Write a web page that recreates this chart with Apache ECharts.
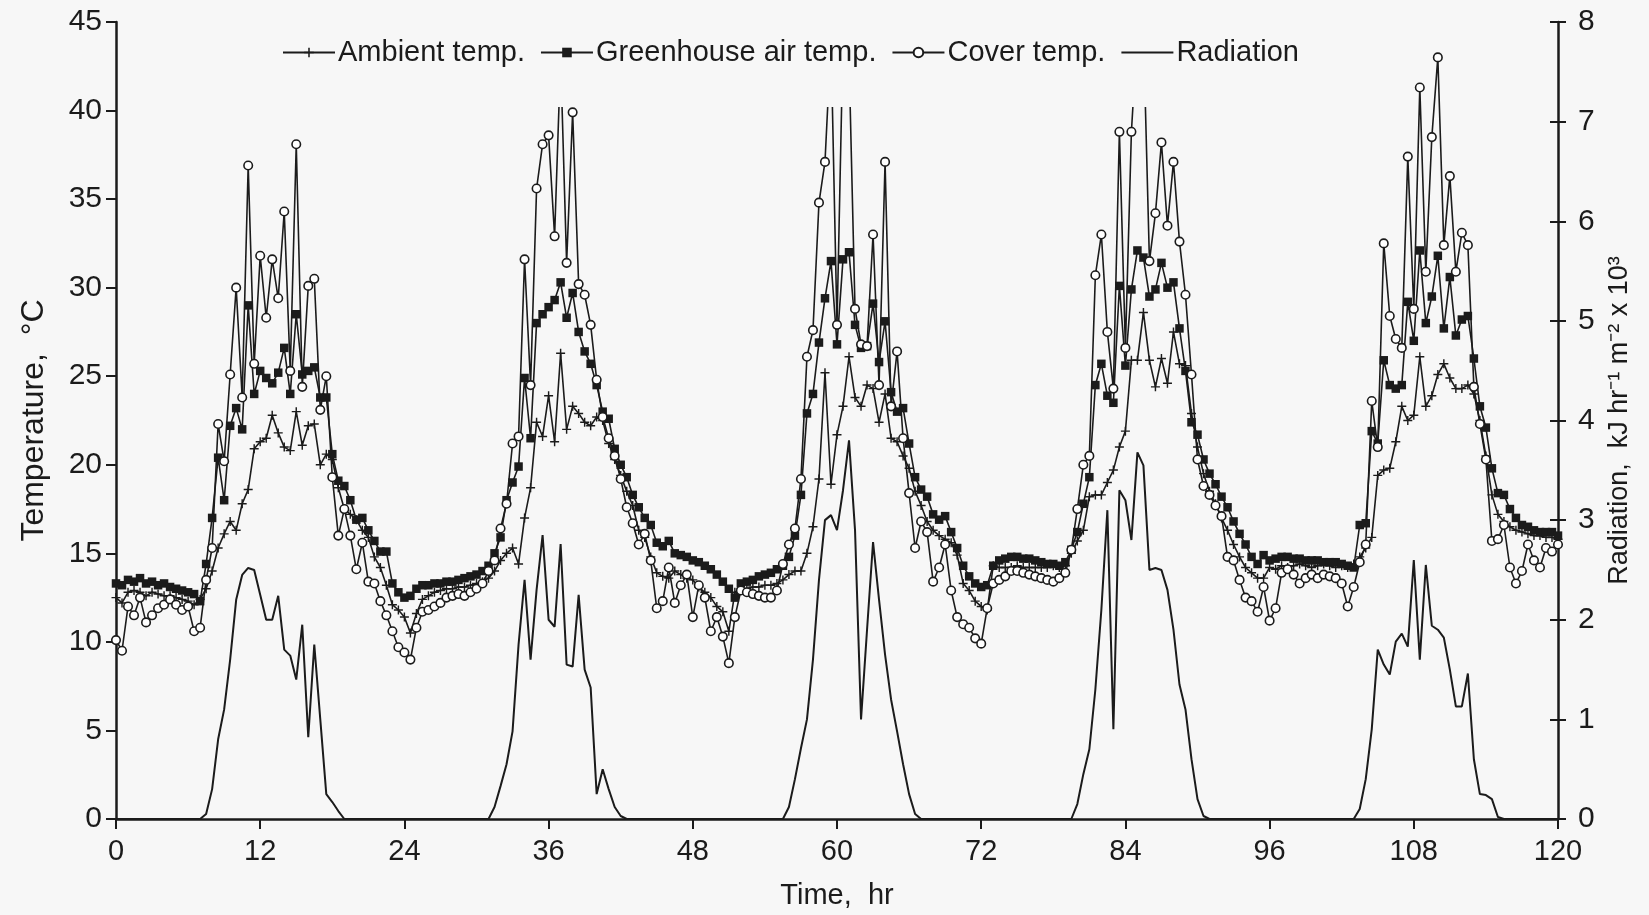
<!DOCTYPE html>
<html>
<head>
<meta charset="utf-8">
<script src="https://cdn.jsdelivr.net/npm/echarts@6/dist/echarts.min.js"></script>
<style>
html,body{margin:0;padding:0;background:#f7f7f7;}
#chart{width:1649px;height:915px;}
</style>
</head>
<body>
<div id="chart"></div>
<script>
// time axis: readings every half hour from 0 to 120 h
const HOURS = [];
for (let i = 0; i <= 240; i++) HOURS.push(i / 2);

const X_TICKS = [0, 12, 24, 36, 48, 60, 72, 84, 96, 108, 120];

// Ambient temperature, °C (half-hourly)
const AMBIENT = [
  12.5,12.2,12.8,12.9,12.8,12.6,12.8,12.7,12.6,12.6, 12.5,12.4,12.3,12.1,12.4,13.0,14.0,15.3,16.1,16.8,
  16.3,17.8,18.6,20.9,21.3,21.5,22.8,21.8,21.0,20.8, 23.0,21.1,22.2,22.3,20.0,20.6,20.3,18.7,17.5,17.2,
  16.9,16.3,15.9,14.8,14.2,13.2,12.1,11.8,
  11.4,10.5,11.6,12.4,12.6,12.8,12.9,13.0,13.0,13.1, 13.1,13.2,13.3,13.4,13.6,14.0,14.6,15.0,15.3,14.4,
  17.0,18.7,22.4,21.6,23.9,21.3,26.3,22.0,23.3,22.9, 22.4,22.2,22.7,22.5,21.2,20.3,19.4,18.5,17.7,16.3,
  15.9,14.8,13.9,13.7,13.6,14.0,13.8,13.6,
  13.5,13.1,12.8,12.5,12.0,11.7,10.6,12.8,13.0,13.0, 13.1,13.1,13.2,13.2,13.3,13.5,13.8,14.0,14.0,15.0,
  16.5,19.2,25.2,18.9,21.7,23.3,26.1,23.8,23.3,24.5, 24.3,22.4,24.0,21.5,21.3,20.5,19.8,18.5,17.7,16.8,
  16.3,16.0,15.8,15.6,14.9,13.3,12.9,12.3,
  12.0,11.8,14.3,14.2,14.2,14.2,14.3,14.2,14.2,14.2, 14.2,14.2,14.3,14.2,14.3,15.0,15.7,16.3,18.2,18.3,
  18.3,19.0,19.7,21.0,21.9,25.9,25.9,28.6,25.9,24.4, 26.0,24.6,27.5,25.7,25.6,22.9,21.0,19.5,18.5,17.8,
  17.0,16.3,15.5,14.8,14.2,13.9,13.6,13.6,
  14.2,14.1,14.3,14.2,14.3,14.4,14.3,14.2,14.3,14.4, 14.3,14.2,14.3,14.2,14.4,14.8,15.3,15.9,19.4,19.7,
  19.8,21.3,23.3,22.5,22.8,26.1,23.3,23.9,25.1,25.7, 24.9,24.3,24.3,24.5,24.0,22.5,20.5,18.3,17.2,16.8,
  16.5,16.3,16.2,16.1,16.0,16.0,15.9,15.9,15.8
];

// Greenhouse air temperature, °C
const GREENHOUSE = [
  13.3,13.2,13.5,13.4,13.6,13.3,13.4,13.2,13.3,13.1, 13.0,12.9,12.8,12.7,12.3,14.4,17.0,20.4,18.0,22.2,
  23.2,22.0,29.0,24.0,25.3,24.9,24.6,25.2,26.6,24.0, 28.5,25.1,25.3,25.5,23.8,23.8,20.6,19.1,18.8,18.0,
  16.9,17.0,16.3,15.7,15.1,15.1,13.3,12.8,
  12.5,12.6,13.0,13.2,13.2,13.3,13.3,13.4,13.4,13.5, 13.6,13.7,13.8,14.0,14.3,15.0,15.9,18.0,19.0,19.9,
  24.9,21.5,28.0,28.5,28.9,29.3,30.3,28.3,29.7,27.5, 26.4,25.7,24.5,23.0,22.6,20.9,20.0,19.3,18.3,17.6,
  17.0,16.6,15.6,15.4,15.7,15.0,14.9,14.8,
  14.6,14.5,14.3,14.1,13.8,13.4,13.0,12.5,13.3,13.4, 13.5,13.7,13.8,13.9,14.1,14.3,14.8,16.0,18.3,22.9,
  24.0,26.9,29.4,31.5,26.8,31.6,32.0,27.9,26.6,26.7, 29.1,25.8,28.1,24.1,23.0,23.2,21.2,19.3,18.6,18.2,
  17.2,16.9,17.1,16.2,15.3,14.3,13.7,13.3,
  13.1,13.2,14.3,14.6,14.7,14.8,14.8,14.7,14.7,14.6, 14.5,14.4,14.4,14.3,14.5,15.2,16.2,17.8,19.3,24.5,
  25.7,23.9,23.5,30.1,25.6,29.9,32.1,31.7,29.5,29.9, 31.4,30.0,30.3,27.7,25.3,22.4,21.7,20.3,19.5,18.9,
  18.2,17.6,16.8,16.1,15.5,14.8,14.4,14.9,
  14.6,14.7,14.8,14.8,14.7,14.7,14.6,14.6,14.6,14.5, 14.5,14.5,14.4,14.3,14.2,16.6,16.7,21.9,21.2,25.9,
  24.5,24.3,24.5,29.2,27.0,32.1,28.0,29.5,31.8,27.7, 30.6,27.3,28.2,28.4,26.0,23.3,22.1,19.8,18.4,18.3,
  17.5,17.0,16.6,16.5,16.3,16.2,16.2,16.2,16.0
];

// Cover temperature, °C
const COVER = [
  10.1,9.5,12.0,11.5,12.5,11.1,11.5,11.9,12.1,12.4, 12.1,11.8,12.0,10.6,10.8,13.5,15.3,22.3,20.2,25.1,
  30.0,23.8,36.9,25.7,31.8,28.3,31.6,29.4,34.3,25.3, 38.1,24.4,30.1,30.5,23.1,25.0,19.3,16.0,17.5,16.0,
  14.1,15.6,13.4,13.3,12.3,11.5,10.6,9.7,
  9.4,9.0,10.8,11.7,11.8,12.0,12.2,12.5,12.6,12.7, 12.6,12.8,13.0,13.3,14.0,14.6,16.4,17.8,21.2,21.6,
  31.6,24.5,35.6,38.1,38.6,32.9,43.0,31.4,39.9,30.2, 29.6,27.9,24.8,22.7,21.5,20.5,19.2,17.6,16.7,15.5,
  16.1,14.6,11.9,12.3,14.2,12.2,13.2,13.8,
  11.4,13.2,12.5,10.6,11.4,10.3,8.8,11.4,12.9,12.8, 12.7,12.6,12.5,12.5,12.9,14.4,15.5,16.4,19.2,26.1,
  27.6,34.8,37.1,44.0,27.9,44.0,43.0,28.8,26.8,26.7, 33.0,24.5,37.1,23.3,26.4,21.5,18.4,15.3,16.8,16.2,
  13.4,14.2,15.5,12.9,11.4,11.0,10.8,10.2,
  9.9,11.9,13.3,13.5,13.7,14.0,14.0,13.9,13.8,13.7, 13.6,13.5,13.4,13.6,13.9,15.2,17.5,20.0,20.5,30.7,
  33.0,27.5,24.3,38.8,26.6,38.8,44.5,44.5,31.5,34.2, 38.2,33.5,37.1,32.6,29.6,25.1,20.3,18.8,18.3,17.7,
  17.1,14.8,14.6,13.5,12.5,12.3,11.7,13.1,
  11.2,11.9,13.9,14.1,13.8,13.3,13.6,13.8,13.6,13.8, 13.7,13.6,13.3,12.0,13.1,14.5,15.5,23.6,21.0,32.5,
  28.4,27.1,26.6,37.4,28.8,41.3,30.9,38.5,43.0,32.4, 36.3,30.9,33.1,32.4,24.4,22.3,20.3,15.7,15.8,16.6,
  14.2,13.3,14.0,15.5,14.6,14.2,15.3,15.1,15.5
];

// Radiation, kJ hr-1 m-2 x 10^3
const RADIATION = [
  0,0,0,0,0,0,0,0,0,0, 0,0,0,0,0,0.05,0.3,0.8,1.1,1.6,
  2.2,2.45,2.52,2.5,2.25,2.0,2.0,2.24,1.7,1.64, 1.4,1.95,0.82,1.75,1.0,0.25,0.17,0.08,0,0,
  0,0,0,0,0,0,0,0,
  0,0,0,0,0,0,0,0,0,0, 0,0,0,0,0,0.12,0.33,0.55,0.88,1.75,
  2.4,1.6,2.3,2.85,2.0,1.93,2.76,1.55,1.53,2.25, 1.5,1.32,0.25,0.5,0.3,0.12,0.03,0,0,0,
  0,0,0,0,0,0,0,0,
  0,0,0,0,0,0,0,0,0,0, 0,0,0,0,0,0,0.12,0.4,0.71,1.0,
  1.6,2.4,3.0,3.05,2.9,3.3,3.8,2.9,1.0,1.9, 2.78,2.2,1.65,1.2,0.88,0.55,0.25,0.05,0,0,
  0,0,0,0,0,0,0,0,
  0,0,0,0,0,0,0,0,0,0, 0,0,0,0,0,0,0.15,0.45,0.7,1.3,
  2.1,3.1,0.9,3.3,3.2,2.8,3.68,3.55,2.5,2.52, 2.5,2.3,1.9,1.35,1.1,0.6,0.2,0.03,0,0,
  0,0,0,0,0,0,0,0,
  0,0,0,0,0,0,0,0,0,0, 0,0,0,0,0,0.1,0.4,0.9,1.7,1.55,
  1.45,1.78,1.86,1.73,2.6,1.6,2.55,1.94,1.9,1.82, 1.5,1.13,1.13,1.46,0.6,0.25,0.24,0.2,0.02,0,
  0,0,0,0,0,0,0,0,0
];

const pairs = arr => HOURS.map((t, i) => [t, arr[i]]);

const INK = '#1b1b1b';
const BG = '#f7f7f7';
const FONT = '"Liberation Sans", Arial, Helvetica, sans-serif';
const PLUS = 'path://M4.2,0 H5.8 V4.2 H10 V5.8 H5.8 V10 H4.2 V5.8 H0 V4.2 H4.2 Z';

const chart = echarts.init(document.getElementById('chart'), null, {renderer: 'canvas'});

chart.setOption({
  backgroundColor: BG,
  animation: false,
  textStyle: {fontFamily: FONT, color: INK},
  grid: {left: 116, right: 91, top: 22, bottom: 93, containLabel: false},
  legend: {
    left: 272,
    top: 14,
    padding: [24, 10, 40, 10],
    backgroundColor: BG,
    itemWidth: 52,
    itemHeight: 12,
    itemGap: 15,
    z: 10,
    textStyle: {fontSize: 29, color: INK, fontFamily: FONT, padding: [0, 0, 0, -2]},
    data: [
      'Ambient temp.',
      'Greenhouse air temp.',
      'Cover temp.',
      {name: 'Radiation', itemStyle: {color: 'rgba(0,0,0,0)', borderColor: 'rgba(0,0,0,0)', borderWidth: 0}}
    ]
  },
  xAxis: {
    type: 'value',
    min: 0, max: 120, interval: 12,
    name: 'Time,  hr',
    nameLocation: 'middle',
    nameGap: 62,
    nameTextStyle: {fontSize: 29, color: INK, fontFamily: FONT},
    axisLine: {show: true, lineStyle: {color: INK, width: 2.5}},
    axisTick: {show: true, length: 10, lineStyle: {color: INK, width: 2}},
    axisLabel: {fontSize: 29, color: INK, margin: 18, fontFamily: FONT,
      formatter: v => X_TICKS.indexOf(v) >= 0 ? String(v) : ''},
    splitLine: {show: false}
  },
  yAxis: [
    {
      type: 'value', position: 'left',
      min: 0, max: 45, interval: 5,
      name: 'Temperature,  °C',
      nameLocation: 'middle', nameRotate: 90, nameGap: 66,
      nameTextStyle: {fontSize: 32, color: INK, fontFamily: FONT},
      axisLine: {show: true, lineStyle: {color: INK, width: 2.5}},
      axisTick: {show: true, length: 10, lineStyle: {color: INK, width: 2}},
      axisLabel: {fontSize: 30, color: INK, margin: 14, fontFamily: FONT},
      splitLine: {show: false}
    },
    {
      type: 'value', position: 'right',
      min: 0, max: 8, interval: 1,
      name: 'Radiation,  kJ hr⁻¹ m⁻² x 10³',
      nameLocation: 'middle', nameRotate: 90, nameGap: 37,
      nameTextStyle: {fontSize: 27, color: INK, fontFamily: FONT},
      axisLine: {show: true, lineStyle: {color: INK, width: 2.5}},
      axisTick: {show: true, length: 8, lineStyle: {color: INK, width: 2}},
      axisLabel: {fontSize: 30, color: INK, margin: 20, fontFamily: FONT},
      splitLine: {show: false}
    },
    {
      type: 'value', position: 'right',
      min: 0, max: 8, interval: 1,
      axisLine: {show: false},
      axisTick: {show: true, inside: true, length: 8, lineStyle: {color: INK, width: 2}},
      axisLabel: {show: false},
      splitLine: {show: false}
    }
  ],
  series: [
    {
      name: 'Ambient temp.', type: 'line', yAxisIndex: 0,
      data: pairs(AMBIENT),
      symbol: PLUS, symbolSize: 9, showAllSymbol: true,
      lineStyle: {color: INK, width: 1.6},
      itemStyle: {color: INK, borderWidth: 0},
      z: 3
    },
    {
      name: 'Greenhouse air temp.', type: 'line', yAxisIndex: 0,
      data: pairs(GREENHOUSE),
      symbol: 'rect', symbolSize: 8.5, showAllSymbol: true,
      lineStyle: {color: INK, width: 1.6},
      itemStyle: {color: INK, borderWidth: 0},
      z: 4
    },
    {
      name: 'Cover temp.', type: 'line', yAxisIndex: 0,
      data: pairs(COVER),
      symbol: 'circle', symbolSize: 8.5, showAllSymbol: true,
      lineStyle: {color: INK, width: 1.6},
      itemStyle: {color: '#ffffff', borderColor: INK, borderWidth: 1.6},
      z: 5
    },
    {
      name: 'Radiation', type: 'line', yAxisIndex: 1,
      data: pairs(RADIATION),
      symbol: 'none',
      lineStyle: {color: INK, width: 2},
      itemStyle: {color: INK},
      z: 2
    }
  ]
});
</script>
</body>
</html>
